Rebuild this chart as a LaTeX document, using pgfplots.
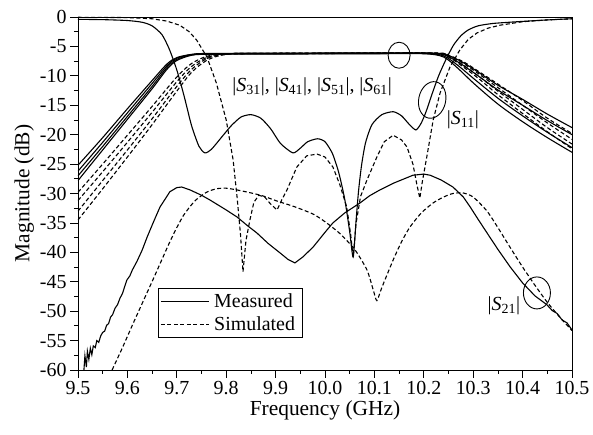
\documentclass[border=0pt]{standalone}
\usepackage{pgfplots}
\pgfplotsset{compat=1.18}
\usepackage{fontspec}
\setmainfont{Liberation Serif}
\newcommand{\bigf}{\fontsize{20}{24}\selectfont}
\newcommand{\labf}{\fontsize{21.5}{25}\selectfont}
\begin{document}
\begin{tikzpicture}
\begin{axis}[
  scale only axis, width=494bp, height=353bp,
  xmin=9.5, xmax=10.5, ymin=-60, ymax=0,
  xtick={9.5,9.6,9.7,9.8,9.9,10.0,10.1,10.2,10.3,10.4,10.5},
  xticklabels={9.5,9.6,9.7,9.8,9.9,10.0,10.1,10.2,10.3,10.4,10.5},
  ytick={-60,-55,-50,-45,-40,-35,-30,-25,-20,-15,-10,-5,0},
  yticklabels={-60,-55,-50,-45,-40,-35,-30,-25,-20,-15,-10,-5,0},
  minor x tick num=1, minor y tick num=1,
  tick align=outside, xtick pos=bottom, ytick pos=left,
  major tick length=8bp, minor tick length=4bp,
  tick style={black, line width=0.8bp},
  axis line style={line width=0.9bp},
  tick label style={font=\bigf},
  label style={font=\labf},
  xlabel={Frequency (GHz)}, ylabel={Magnitude (dB)},
  xlabel style={yshift=1bp},
  ylabel style={yshift=-1bp},
  legend style={at={(rel axis cs:0.162,0.232)}, anchor=north west, draw=black, line width=0.8bp,
     font=\bigf, inner xsep=2bp, inner ysep=3bp, row sep=4bp,
     nodes={inner xsep=5bp}},
  legend cell align=left,
  legend image code/.code={\draw[#1] (0bp,0bp) -- (48bp,0bp);},
  legend image post style={line width=0.8bp},
  every axis plot/.append style={black, line width=1.1bp, mark=none},
]
\addlegendimage{black, solid, line width=0.9bp}
\addlegendentry{Measured}
\addlegendimage{black, dash pattern=on 4bp off 2.5bp, line width=0.9bp}
\addlegendentry{Simulated}

% ---------- measured S11 ----------
\addplot[solid, smooth, tension=0.4] coordinates {
(9.50,-0.4) (9.55,-0.45) (9.60,-0.6) (9.63,-0.9) (9.65,-1.5) (9.67,-3.0) (9.685,-5.5)
(9.70,-9.0) (9.715,-13.5) (9.73,-18.5) (9.745,-22.0) (9.757,-23.1) (9.77,-22.5)
(9.79,-20.5) (9.81,-18.5) (9.83,-17.0) (9.85,-16.6) (9.87,-17.2) (9.89,-19.0)
(9.91,-21.5) (9.935,-23.1) (9.95,-22.3) (9.965,-21.2) (9.985,-20.7) (10.00,-21.2)
(10.015,-23.2) (10.028,-26.5) (10.04,-31.0) (10.05,-36.5) (10.057,-40.8)
(10.063,-34.5) (10.068,-29.5) (10.074,-25.2) (10.082,-21.4) (10.095,-18.3)
(10.115,-16.6) (10.138,-16.1) (10.155,-16.8) (10.17,-18.2) (10.184,-19.2)
(10.195,-18.0) (10.205,-16.0) (10.215,-13.5) (10.23,-10.0) (10.245,-7.2)
(10.26,-4.8) (10.275,-3.2) (10.29,-2.2) (10.31,-1.5) (10.34,-1.1) (10.39,-0.8)
(10.45,-0.5) (10.50,-0.3)
};
% ---------- simulated S11 ----------
\addplot[dash pattern=on 4bp off 2.5bp] coordinates {
(9.50,-0.05) (9.60,-0.1) (9.65,-0.3) (9.68,-0.7) (9.706,-1.4) (9.725,-2.5)
(9.74,-3.9) (9.761,-6.8) (9.78,-11.2) (9.80,-17.5) (9.814,-24.3) (9.822,-30.6)
(9.829,-37) (9.834,-43.3) (9.84,-38) (9.848,-34.5) (9.856,-31.5) (9.866,-30.3)
(9.878,-30.6) (9.89,-31.8) (9.903,-32.8) (9.913,-31) (9.923,-29.4) (9.943,-25.5)
(9.963,-23.6) (9.984,-23.3) (10.00,-23.8) (10.016,-25.5) (10.03,-28.5)
(10.044,-32.3) (10.052,-37) (10.057,-40.8) (10.063,-35) (10.072,-30.5)
(10.085,-27.7) (10.105,-23.8) (10.12,-21.2) (10.138,-20.1) (10.155,-20.9)
(10.166,-22.1) (10.178,-25) (10.186,-28.5) (10.192,-30.8) (10.197,-28)
(10.206,-23.8) (10.219,-17.5) (10.233,-12.9) (10.253,-8.5) (10.273,-5.6)
(10.29,-3.8) (10.308,-2.7) (10.33,-1.9) (10.354,-1.4) (10.40,-0.8) (10.45,-0.5)
(10.50,-0.3)
};
% ---------- measured S21 ----------
\addplot[solid] coordinates {
(9.512,-60) (9.514,-57.6) (9.517,-59.5) (9.519,-56.8) (9.522,-58.2) (9.525,-56.3)
(9.528,-57.4) (9.531,-55.9) (9.535,-56.2) (9.538,-55.0) (9.542,-55.3) (9.546,-54.2)
(9.550,-53.6) (9.554,-53.4) (9.558,-52.4) (9.562,-52.1) (9.566,-51.0) (9.570,-50.6)
(9.575,-49.5) (9.580,-48.9) (9.585,-47.8) (9.590,-47.0) (9.595,-45.7) (9.599,-44.7)
(9.605,-44.0) (9.610,-43.0) (9.619,-41.6) (9.63,-39.6) (9.64,-37.4) (9.653,-34.8)
(9.666,-32.3) (9.686,-29.7) (9.70,-29.0) (9.71,-28.9) (9.727,-29.4) (9.75,-30.3)
(9.767,-31.1) (9.80,-32.8) (9.822,-34) (9.845,-35.6) (9.862,-36.7) (9.885,-38.5)
(9.909,-40.1) (9.925,-41.2) (9.939,-41.8) (9.955,-40.8) (9.976,-39.1) (10.00,-36.6)
(10.016,-35.0) (10.04,-33.3) (10.071,-31.6) (10.09,-30.4) (10.111,-29.4)
(10.14,-28.2) (10.178,-26.9) (10.20,-26.7) (10.213,-26.9) (10.235,-27.7)
(10.259,-28.9) (10.28,-30.6) (10.294,-32.3) (10.31,-34.4) (10.328,-36.7)
(10.35,-39.5) (10.375,-42.5) (10.40,-45.2) (10.425,-47.4) (10.449,-48.9)
(10.46,-49.9) (10.47,-50.4) (10.48,-51.5) (10.49,-52.0) (10.50,-53.2)
};
% ---------- simulated S21 ----------
\addplot[dash pattern=on 4bp off 2.5bp, smooth, tension=0.4] coordinates {
(9.569,-60) (9.59,-56.2) (9.611,-52.2) (9.632,-48.3) (9.652,-44.6) (9.67,-41.2)
(9.686,-38.2) (9.70,-35.8) (9.713,-33.8) (9.727,-32.2) (9.74,-31.0) (9.76,-29.8)
(9.78,-29.2) (9.80,-29.1) (9.822,-29.4) (9.85,-29.9) (9.874,-30.4) (9.90,-31.2)
(9.94,-32.3) (9.976,-33.5) (10.00,-34.8) (10.03,-36.8) (10.06,-39.5) (10.085,-43)
(10.098,-46.5) (10.105,-48.2) (10.115,-46) (10.138,-41.3) (10.155,-38.2)
(10.172,-35.7) (10.195,-33.3) (10.219,-31.6) (10.24,-30.6) (10.259,-30.0)
(10.279,-29.9) (10.30,-30.6) (10.328,-33.0) (10.35,-35.8) (10.375,-39.2)
(10.40,-42.5) (10.425,-45.6) (10.45,-48.5) (10.475,-51) (10.50,-53.3)
};
% ---------- measured S31..S61 ----------
\addplot[solid, smooth, tension=0.5] coordinates {
(9.5,-25.2) (9.55,-20.5) (9.6,-15.6) (9.65,-10.8) (9.68,-8.0) (9.70,-6.9) (9.73,-6.35)
(9.76,-6.2) (9.9,-6.15) (10.1,-6.1) (10.2,-6.1) (10.24,-6.3) (10.27,-7.3) (10.30,-8.8)
(10.35,-11.6) (10.40,-14.0) (10.45,-16.5) (10.50,-18.8)
};
\addplot[solid, smooth, tension=0.5] coordinates {
(9.5,-26.2) (9.55,-21.3) (9.6,-16.3) (9.65,-11.3) (9.68,-8.3) (9.70,-7.0) (9.73,-6.4)
(9.76,-6.25) (9.9,-6.2) (10.1,-6.15) (10.2,-6.15) (10.24,-6.4) (10.27,-7.7) (10.30,-9.4)
(10.35,-12.4) (10.40,-15.0) (10.45,-17.6) (10.50,-20.0)
};
\addplot[solid, smooth, tension=0.5] coordinates {
(9.5,-27.0) (9.55,-22.0) (9.6,-16.9) (9.65,-11.8) (9.68,-8.6) (9.70,-7.2) (9.73,-6.45)
(9.76,-6.3) (9.9,-6.25) (10.1,-6.2) (10.2,-6.2) (10.24,-6.6) (10.27,-8.3) (10.30,-10.4)
(10.35,-13.8) (10.40,-16.8) (10.45,-19.6) (10.50,-22.2)
};
\addplot[solid, smooth, tension=0.5] coordinates {
(9.5,-27.8) (9.55,-22.6) (9.6,-17.4) (9.65,-12.2) (9.68,-8.9) (9.70,-7.4) (9.73,-6.5)
(9.76,-6.35) (9.9,-6.3) (10.1,-6.25) (10.2,-6.25) (10.24,-6.8) (10.27,-8.8) (10.30,-11.2)
(10.35,-14.8) (10.40,-17.8) (10.45,-20.5) (10.50,-23.0)
};
% ---------- simulated S31..S61 ----------
\addplot[dash pattern=on 4bp off 2.5bp, smooth, tension=0.5] coordinates {
(9.5,-29.8) (9.55,-25.0) (9.6,-20.1) (9.65,-15.2) (9.70,-10.2) (9.73,-7.9) (9.76,-6.7)
(9.79,-6.3) (9.83,-6.2) (10.0,-6.15) (10.22,-6.1) (10.25,-6.5) (10.28,-7.6) (10.31,-9.2)
(10.35,-11.4) (10.40,-14.2) (10.45,-17.2) (10.50,-19.8)
};
\addplot[dash pattern=on 4bp off 2.5bp, smooth, tension=0.5] coordinates {
(9.5,-31.2) (9.55,-26.3) (9.6,-21.3) (9.65,-16.2) (9.70,-11.0) (9.73,-8.4) (9.76,-6.9)
(9.79,-6.35) (9.83,-6.2) (10.0,-6.15) (10.22,-6.15) (10.25,-6.6) (10.28,-7.9) (10.31,-9.6)
(10.35,-12.0) (10.40,-15.0) (10.45,-18.0) (10.50,-20.8)
};
\addplot[dash pattern=on 4bp off 2.5bp, smooth, tension=0.5] coordinates {
(9.5,-33.0) (9.55,-27.8) (9.6,-22.6) (9.65,-17.3) (9.70,-11.8) (9.73,-8.9) (9.76,-7.1)
(9.79,-6.4) (9.83,-6.2) (10.0,-6.2) (10.22,-6.2) (10.25,-6.7) (10.28,-8.2) (10.31,-10.0)
(10.35,-12.6) (10.40,-15.7) (10.45,-18.8) (10.50,-21.6)
};
\addplot[dash pattern=on 4bp off 2.5bp, smooth, tension=0.5] coordinates {
(9.5,-34.5) (9.55,-29.2) (9.6,-23.8) (9.65,-18.3) (9.70,-12.6) (9.73,-9.4) (9.76,-7.4)
(9.79,-6.5) (9.83,-6.25) (10.0,-6.2) (10.22,-6.2) (10.25,-6.8) (10.28,-8.5) (10.31,-10.4)
(10.35,-13.2) (10.40,-16.4) (10.45,-19.5) (10.50,-22.4)
};

% ---------- annotations ----------
\draw[line width=0.9bp] (axis cs:10.15,-6.5) ellipse [x radius=11bp, y radius=13bp];
\draw[line width=0.9bp, rotate around={-12:(axis cs:10.217,-14.1)}] (axis cs:10.217,-14.1) ellipse [x radius=13.5bp, y radius=18.5bp];
\draw[line width=0.9bp] (axis cs:10.429,-46.9) ellipse [x radius=13.5bp, y radius=16bp];
\node[font=\bigf] at (axis cs:9.974,-11.9) {|\textit{S}\textsubscript{31}|, |\textit{S}\textsubscript{41}|, |\textit{S}\textsubscript{51}|, |\textit{S}\textsubscript{61}|};
\node[font=\bigf] at (axis cs:10.279,-17.5) {|\textit{S}\textsubscript{11}|};
\node[font=\bigf] at (axis cs:10.362,-49.1) {|\textit{S}\textsubscript{21}|};
\end{axis}
\pgfresetboundingbox
\path ([shift={(-78bp,-65bp)}]current axis.south west) rectangle ([shift={(21bp,17bp)}]current axis.north east);
\end{tikzpicture}
\end{document}
